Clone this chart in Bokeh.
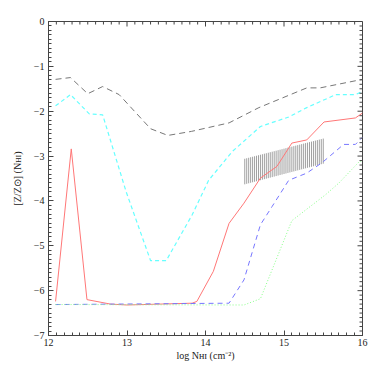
from bokeh.plotting import figure
from bokeh.models import Range1d, FixedTicker
from bokeh.embed import file_html
from bokeh.resources import INLINE

# --- data ---
gray_x = [12.09, 12.28, 12.50, 12.69, 12.90, 13.30, 13.52, 13.82, 14.30, 14.68, 15.29, 15.46, 16.0]
gray_y = [-1.29, -1.25, -1.61, -1.45, -1.63, -2.39, -2.54, -2.45, -2.26, -1.92, -1.48, -1.48, -1.29]

cyan_x = [12.09, 12.28, 12.52, 12.69, 12.99, 13.30, 13.50, 13.83, 14.04, 14.34, 14.70, 15.06, 15.29, 15.66, 15.91, 16.0]
cyan_y = [-1.88, -1.63, -2.06, -2.08, -3.80, -5.33, -5.33, -4.31, -3.54, -2.90, -2.34, -2.13, -1.92, -1.63, -1.63, -1.56]

red_x = [12.09, 12.29, 12.49, 12.79, 13.0, 13.83, 13.89, 14.10, 14.30, 14.49, 14.70, 14.91, 15.10, 15.29, 15.51, 15.91, 16.0]
red_y = [-6.24, -2.84, -6.20, -6.30, -6.32, -6.28, -6.24, -5.57, -4.50, -4.05, -3.49, -3.23, -2.71, -2.64, -2.24, -2.15, -2.04]

blue_x = [12.09, 14.30, 14.49, 14.70, 14.85, 15.06, 15.29, 15.49, 15.76, 15.91, 16.0]
blue_y = [-6.31, -6.28, -5.76, -4.53, -4.12, -3.54, -3.38, -3.14, -2.74, -2.74, -2.58]

green_x = [12.09, 14.49, 14.70, 15.10, 15.53, 15.70, 15.95, 16.0]
green_y = [-6.31, -6.32, -6.18, -4.44, -3.86, -3.60, -3.14, -3.10]

# hatched band: left/right edge x, top and bottom y at each edge
band_x = [14.5, 15.5]
band_top = [-3.06, -2.61]
band_bottom = [-3.63, -3.17]
band_lines = 41

x_ticks = [12, 13, 14, 15, 16]
y_ticks = [0, -1, -2, -3, -4, -5, -6, -7]
x_minor = [12 + i * 0.1 for i in range(41)]
y_minor = [-7 + i * 0.1 for i in range(71)]

x_title = "log Nʜɪ (cm⁻²)"
y_title = "[Z/Z⊙] (Nʜɪ)"

FONT = "Liberation Serif"
AX = "#444444"
X0, X1, Y0, Y1 = 12, 16, -7, 0
FW, FH = 314, 314

p = figure(frame_width=FW, frame_height=FH, output_backend="svg", toolbar_location=None,
           x_range=Range1d(X0, X1), y_range=Range1d(Y0, Y1),
           min_border_left=48, min_border_right=10, min_border_top=21, min_border_bottom=39)
p.grid.visible = False
p.outline_line_color = AX
p.background_fill_color = "white"
p.border_fill_color = "white"

# hatched band as vertical strokes
hx, hy0, hy1 = [], [], []
for i in range(band_lines):
    f = i / (band_lines - 1)
    hx.append(band_x[0] + f * (band_x[1] - band_x[0]))
    hy0.append(band_bottom[0] + f * (band_bottom[1] - band_bottom[0]))
    hy1.append(band_top[0] + f * (band_top[1] - band_top[0]))
p.segment(x0=hx, y0=hy0, x1=hx, y1=hy1, line_color="#a0a0a0", line_width=1)

p.line(gray_x, gray_y, line_color="#777777", line_width=1, line_dash="6 4")
p.line(cyan_x, cyan_y, line_color="#66ffff", line_width=1.2, line_dash="4 3")
p.line(red_x, red_y, line_color="#ff7777", line_width=1)
p.line(blue_x, blue_y, line_color="#7777ff", line_width=1, line_dash="5 4")
p.line(green_x, green_y, line_color="#88ff88", line_width=1, line_dash="1 2")

# mirrored inward ticks on the top and right frame edges
dy_major = 5 * (Y1 - Y0) / FH
dy_minor = 3 * (Y1 - Y0) / FH
dx_major = 5 * (X1 - X0) / FW
dx_minor = 3 * (X1 - X0) / FW
tx = [t for t in x_minor if round(t, 3) not in x_ticks]
ty = [t for t in y_minor if round(t, 3) not in y_ticks]
p.segment(x0=x_ticks, y0=[Y1] * len(x_ticks), x1=x_ticks, y1=[Y1 - dy_major] * len(x_ticks), line_color=AX, line_width=1)
p.segment(x0=tx, y0=[Y1] * len(tx), x1=tx, y1=[Y1 - dy_minor] * len(tx), line_color=AX, line_width=1)
p.segment(x0=[X1] * len(y_ticks), y0=y_ticks, x1=[X1 - dx_major] * len(y_ticks), y1=y_ticks, line_color=AX, line_width=1)
p.segment(x0=[X1] * len(ty), y0=ty, x1=[X1 - dx_minor] * len(ty), y1=ty, line_color=AX, line_width=1)


def style(ax):
    ax.axis_line_color = AX
    ax.major_tick_line_color = AX
    ax.minor_tick_line_color = AX
    ax.major_tick_in = 5
    ax.major_tick_out = 0
    ax.minor_tick_in = 3
    ax.minor_tick_out = 0
    ax.major_label_text_font = FONT
    ax.major_label_text_font_size = "10px"
    ax.major_label_text_color = "#222222"
    ax.axis_label_text_font = FONT
    ax.axis_label_text_font_size = "10px"
    ax.axis_label_text_font_style = "normal"
    ax.axis_label_text_color = "#222222"


p.xaxis[0].ticker = FixedTicker(ticks=x_ticks, minor_ticks=x_minor)
p.yaxis[0].ticker = FixedTicker(ticks=y_ticks, minor_ticks=y_minor)
style(p.xaxis[0])
style(p.yaxis[0])
p.xaxis[0].axis_label = x_title
p.yaxis[0].axis_label = y_title
p.xaxis[0].major_label_standoff = 3
p.yaxis[0].major_label_standoff = 4
p.xaxis[0].axis_label_standoff = 1
p.yaxis[0].axis_label_standoff = 8
p.yaxis[0].major_label_overrides = {v: ("0" if v == 0 else "\u2212" + str(-v)) for v in y_ticks}

open("out.html", "w").write(file_html(p, INLINE))
